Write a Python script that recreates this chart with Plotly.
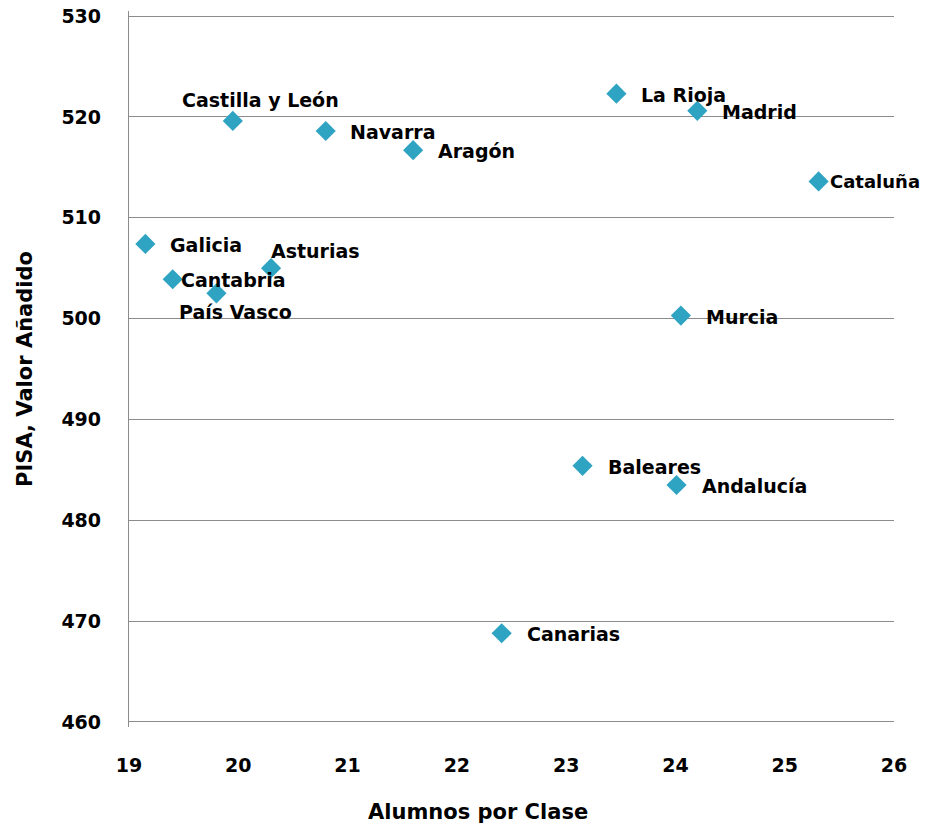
import plotly.graph_objects as go

regions = ["Castilla y León", "Navarra", "Aragón", "La Rioja", "Madrid", "Cataluña",
           "Galicia", "Asturias", "Cantabria", "País Vasco", "Murcia", "Baleares",
           "Andalucía", "Canarias"]
alumnos = [19.95, 20.80, 21.60, 23.46, 24.20, 25.31,
           19.15, 20.30, 19.40, 19.80, 24.05, 23.15,
           24.01, 22.41]
pisa = [519.6, 518.6, 516.7, 522.3, 520.6, 513.6,
        507.4, 505.0, 503.9, 502.5, 500.3, 485.4,
        483.5, 468.8]

x_ticks = [19, 20, 21, 22, 23, 24, 25, 26]
y_ticks = [460, 470, 480, 490, 500, 510, 520, 530]

# label placement (xanchor, xshift px, yshift px, font size)
label_style = {
    "Castilla y León": ("center", 28, 21, 19),
    "Navarra": ("left", 22, -1, 19),
    "Asturias": ("left", -2, 17, 19),
    "Cantabria": ("left", 6, -1, 19),
    "País Vasco": ("center", 19, -19, 19),
    "Cataluña": ("left", 9, 0, 18),
}

FONT = "DejaVu Sans"
color = "#2FA3C2"
grid = "#8C8C8C"

fig = go.Figure()
fig.add_trace(go.Scatter(
    x=alumnos, y=pisa, mode="markers",
    marker=dict(symbol="diamond", size=15.5, color=color),
    hoverinfo="text", text=regions,
))

for name, xv, yv in zip(regions, alumnos, pisa):
    anchor, dx, dy, fs = label_style.get(name, ("left", 23, -1, 19))
    fig.add_annotation(x=xv, y=yv, text=name, showarrow=False,
                       xanchor=anchor, yanchor="middle", xshift=dx, yshift=dy,
                       font=dict(family=FONT, size=fs, color="#000000", weight="bold"))

fig.add_annotation(x=0.456, y=0, xref="paper", yref="paper", yanchor="middle",
                   yshift=-85, text="Alumnos por Clase", showarrow=False,
                   xanchor="center",
                   font=dict(family=FONT, size=21, color="#000000", weight="bold"))

fig.update_layout(
    width=921, height=818,
    margin=dict(l=121, r=35, t=3, b=99),
    paper_bgcolor="white", plot_bgcolor="white",
    showlegend=False,
    font=dict(family=FONT, size=19, color="#000000", weight="bold"),
    xaxis=dict(range=[19, 26], tickvals=x_ticks, showgrid=False, zeroline=False,
               showline=False, ticks="", ticklabelstandoff=25, automargin=False,
               ticklabeloverflow="allow",
               tickfont=dict(family=FONT, size=19, weight="bold")),
    yaxis=dict(range=[459.5, 530.5], tickvals=y_ticks, showgrid=True,
               gridcolor=grid, gridwidth=1.3, zeroline=False,
               showline=True, linecolor=grid, linewidth=1.3,
               ticks="", ticklabelstandoff=23, automargin=False,
               ticklabeloverflow="allow",
               tickfont=dict(family=FONT, size=19, weight="bold"),
               title=dict(text="PISA, Valor Añadido", standoff=23,
                          font=dict(family=FONT, size=21, weight="bold"))),
)

fig.write_html("out.html")
